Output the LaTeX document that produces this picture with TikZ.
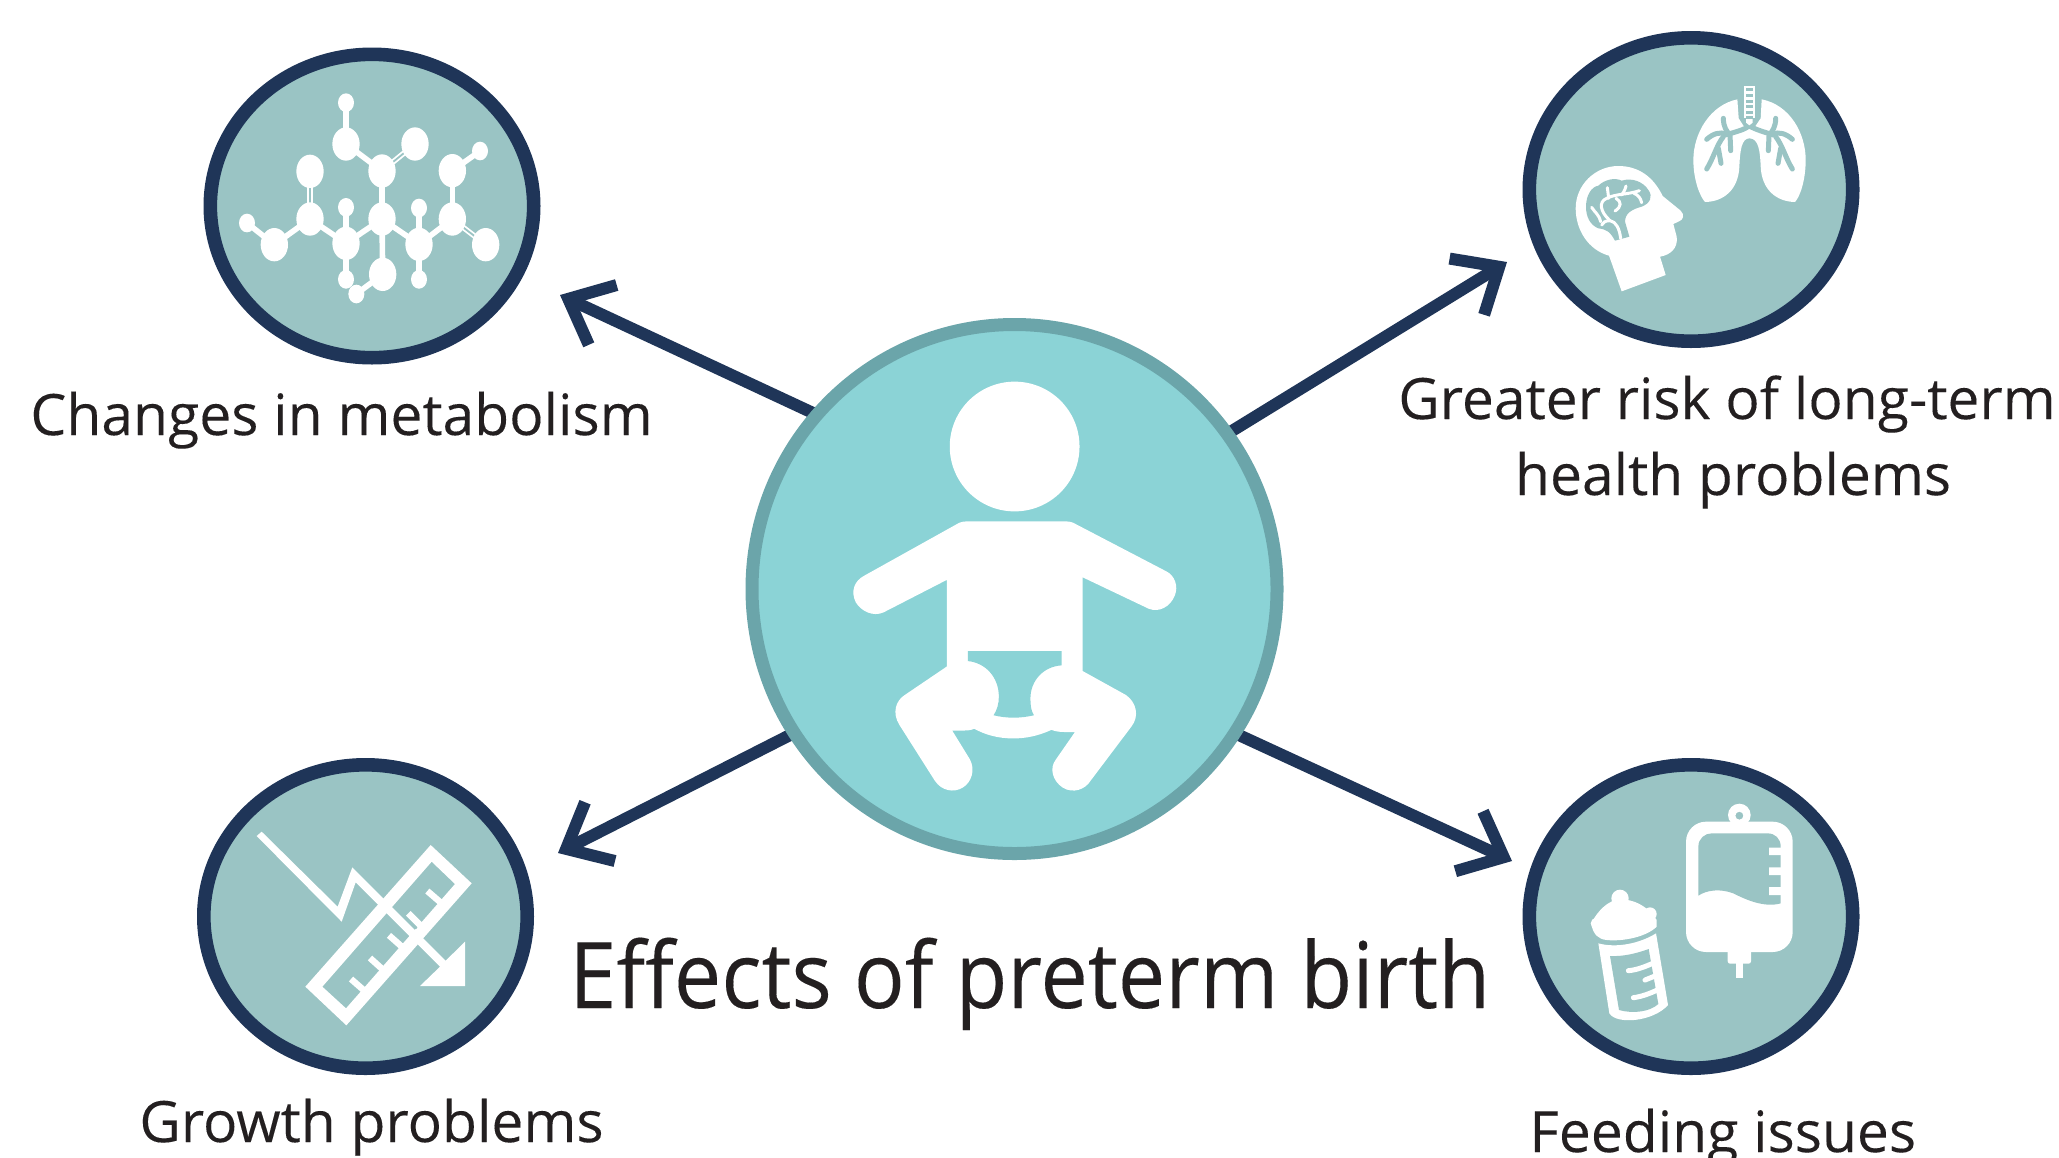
\documentclass[tikz,border=0pt]{standalone}
\usepackage{fontspec}
\setmainfont{Open Sans}[FakeBold=0.15]
\usetikzlibrary{arrows.meta,shapes.geometric,backgrounds}
\definecolor{navy}{HTML}{1F3558}
\definecolor{sea}{HTML}{9AC4C4}
\definecolor{aqua}{HTML}{8BD3D6}
\definecolor{ringc}{HTML}{6BA5AA}
\definecolor{ink}{HTML}{231F20}
\tikzset{
  effectcircle/.style={ellipse,draw=navy,fill=sea,line width=6.8pt,inner sep=0pt,minimum width=161.7pt,minimum height=151.7pt},
  maincircle/.style={ellipse,draw=ringc,fill=aqua,line width=6.5pt,inner sep=0pt,minimum width=262.5pt,minimum height=264.5pt},
  link/.style={draw=navy,line width=6pt,shorten <=-8pt,-{Straight Barb[length=19pt,width=33pt,line width=6pt,line join=miter,line cap=butt]}},
  lab/.style={font=\fontsize{28.5}{38}\selectfont,text=ink,inner sep=0pt},
  crop/.style 2 args={shift={(#1,#2)},x=.16667pt,y=-.16667pt},
  bigcrop/.style 2 args={shift={(#1,#2)},x=.17537pt,y=-.1782pt},
  bond/.style={draw=white,line width=2.8pt},
  dbond/.style={draw=white,line width=.9pt,double=sea,double distance=.9pt},
  vein/.style={draw=white,line width=1.5pt,line cap=round},
  bron/.style={draw=sea,line width=2.5pt,line cap=round},
}
\begin{document}
\begin{tikzpicture}[x=.5pt,y=-.5pt]
\useasboundingbox (0,0) rectangle (2059,1157);
% nodes
\node[maincircle] (center) at (1014.5,589) {};
\node[effectcircle] (metab) at (372,206) {};
\node[effectcircle] (risk) at (1691,189.5) {};
\node[effectcircle] (growth) at (365.5,916.5) {};
\node[effectcircle] (feed) at (1691,916.5) {};
% connectors
\coordinate (tipA) at (560,295);
\coordinate (tipB) at (1507,262);
\coordinate (tipC) at (558,853);
\coordinate (tipD) at (1512,861);
\begin{pgfonlayer}{background}
\draw[link] (center.139.3) -- (tipA);
\draw[link] (center.36.8) -- (tipB);
\draw[link] (center.213) -- (tipC);
\draw[link] (center.-33.8) -- (tipD);
\end{pgfonlayer}
% baby
\begin{scope}[bigcrop={740}{310}]
\fill[white] (783,383) ellipse [x radius=185,y radius=182];
\fill[white] (625,597) .. controls (632,594) and (640,593) .. (648,593) -- (930,593) .. controls (938,593) and (945,595) .. (950,597)
 -- (1215,733) .. controls (1240,745) and (1250,775) .. (1240,800) .. controls (1228,832) and (1195,850) .. (1165,838)
 -- (977,750) -- (977,1013) -- (1100,1080) .. controls (1130,1100) and (1140,1140) .. (1115,1170)
 -- (1000,1320) .. controls (985,1345) and (950,1358) .. (920,1340) .. controls (890,1320) and (882,1285) .. (900,1262)
 -- (955,1184) -- (925,1184) .. controls (910,1184) and (898,1182) .. (888,1178)
 .. controls (850,1195) and (815,1202) .. (780,1202) .. controls (735,1202) and (700,1192) .. (668,1175)
 .. controls (655,1180) and (645,1180) .. (635,1180) -- (605,1180) -- (655,1260)
 .. controls (672,1290) and (660,1325) .. (635,1340) .. controls (610,1355) and (575,1350) .. (555,1320)
 -- (455,1165) .. controls (432,1130) and (445,1095) .. (470,1080) -- (590,1000) -- (590,757)
 -- (410,848) .. controls (380,862) and (345,845) .. (330,820) .. controls (315,790) and (325,760) .. (355,745) -- cycle;
\fill[aqua] (650,957) -- (917,957) -- (917,997) .. controls (865,1000) and (828,1040) .. (828,1090)
 .. controls (828,1110) and (830,1125) .. (838,1137) .. controls (800,1146) and (760,1146) .. (723,1137)
 .. controls (733,1122) and (738,1105) .. (738,1085) .. controls (738,1030) and (700,990) .. (650,985) -- cycle;
\end{scope}
% molecule
\begin{scope}[crop={190}{40}]
\draw[bond] (468,188)--(468,312)--(576,393)--(576,537)--(578,703)--(499,762);
\draw[bond] (787,392)--(870,333);
\draw[bond] (787,392)--(787,537);
\draw[bond] (171,549)--(253,614)--(360,537)--(468,610)--(576,537)--(687,613)--(787,537);
\draw[bond] (468,502)--(468,718);
\draw[bond] (687,504)--(687,718);
\draw[dbond] (675,312)--(576,393);
\draw[dbond] (360,394)--(360,537);
\draw[dbond] (787,537)--(887,614);
\foreach \p in {(468,312),(675,312),(576,393),(360,394),(787,392),(360,537),(576,537),(787,537),(253,614),(468,610),(687,613),(887,614),(578,703)}
  \fill[white] \p ellipse [x radius=41,y radius=50];
\foreach \p in {(468,188),(870,333),(171,549),(468,502),(687,504),(468,718),(687,718),(499,762)}
  \fill[white] \p ellipse [x radius=24,y radius=28];
\end{scope}
% head and lungs
\begin{scope}[crop={1510}{20}]
\fill[white] (335,814) -- (297,707) .. controls (235,690) and (197,630) .. (197,565) .. controls (197,495) and (255,438) .. (325,438)
 .. controls (385,438) and (430,470) .. (458,528) -- (512,572) .. controls (525,585) and (520,600) .. (505,605) -- (490,612)
 -- (500,650) .. controls (505,685) and (480,705) .. (450,710) -- (467,765) -- cycle;
\fill[sea] (228,560) .. controls (228,525) and (245,500) .. (265,497) .. controls (285,478) and (315,472) .. (335,482)
 .. controls (365,472) and (400,485) .. (415,510) .. controls (430,530) and (420,550) .. (395,560)
 .. controls (365,568) and (345,580) .. (345,605) -- (358,650) -- (315,662) .. controls (300,635) and (290,628) .. (265,625)
 .. controls (240,615) and (228,590) .. cycle;
\draw[vein] (332,655) .. controls (328,625) and (318,605) .. (300,602) .. controls (285,602) and (278,608) .. (275,615);
\draw[vein] (245,562) .. controls (255,578) and (268,585) .. (272,605);
\draw[vein] (300,602) .. controls (270,575) and (265,545) .. (290,535) .. controls (320,520) and (350,525) .. (388,512);
\draw[vein] (292,503) -- (296,535);
\draw[vein] (348,498) .. controls (345,510) and (340,518) .. (335,525);
\draw[vein] (372,520) .. controls (385,525) and (392,535) .. (395,548);
\draw[vein] (318,535) .. controls (335,545) and (335,560) .. (315,573);
\fill[white] (682,238) .. controls (600,255) and (550,340) .. (550,420) .. controls (550,480) and (570,530) .. (585,546)
 .. controls (640,545) and (685,510) .. (688,440) .. controls (690,390) and (695,355) .. (718,355)
 .. controls (745,355) and (750,390) .. (752,440) .. controls (755,510) and (800,545) .. (855,546)
 .. controls (870,530) and (887,480) .. (887,420) .. controls (887,340) and (840,255) .. (755,238)
 -- (752,295) -- (735,320) -- (702,320) -- (686,295) -- cycle;
\draw[bron] (645,345) .. controls (680,335) and (700,330) .. (718,318) .. controls (740,330) and (760,335) .. (790,345);
\draw[bron] (640,295) .. controls (640,320) and (650,335) .. (660,345) -- (662,392);
\draw[bron] (797,295) .. controls (797,320) and (787,335) .. (777,345) -- (775,392);
\draw[bron] (590,358) .. controls (610,340) and (630,335) .. (650,342);
\draw[bron] (847,358) .. controls (827,340) and (807,335) .. (787,342);
\draw[bron] (640,350) .. controls (620,375) and (610,415) .. (590,447);
\draw[bron] (797,350) .. controls (817,375) and (827,415) .. (847,447);
\draw[bron] (625,385) -- (633,430);
\draw[bron] (812,385) -- (804,430);
\fill[white] (702,197) rectangle (735,295);
\fill[white] (708,295) -- (728,295) -- (728,308) -- (718,316) -- (708,308) -- cycle;
\foreach \y in {205,222,239,256,273,288} \fill[sea] (708,\y) rectangle (729,\y+9);
\end{scope}
% growth
\begin{scope}[crop={190}{750}]
\fill[white] (215,245) -- (443,470) -- (487,352) -- (767,632) -- (825,575) -- (825,708) -- (690,708) -- (750,650) -- (497,397) -- (455,515) -- (200,258) -- cycle;
\fill[white,even odd rule] (722,285) -- (845,400) -- (469,826) -- (346,710) -- cycle (725,335) -- (795,402) -- (468,775) -- (397,710) -- cycle;
\draw[white,line width=3.2pt] (483,687) -- (523,722) (540,624) -- (580,660) (597,556) -- (640,594) (712,423) -- (755,460);
\draw[sea,line width=1.1pt] (645,500) -- (680,535);
\draw[white,line width=3.2pt] (655,490) -- (690,525);
\end{scope}
% feeding
\begin{scope}[crop={1510}{750}]
\fill[white,even odd rule] (688,195) circle [x radius=34,y radius=34] (688,197) circle [x radius=12,y radius=12];
\fill[white,rounded corners=1.2pt] (653,590) rectangle (723,641);
\fill[white] (677,635) rectangle (700,684);
\fill[white,rounded corners=10pt] (528,215) rectangle (848,606);
\fill[sea] (565,437) -- (565,290) .. controls (565,265) and (585,250) .. (605,250) -- (772,250) .. controls (795,250) and (812,265) .. (812,290)
 -- (812,460) .. controls (760,475) and (700,445) .. (670,430) .. controls (630,415) and (590,420) .. cycle;
\fill[white] (777,293) rectangle (813,315) (777,352) rectangle (813,375) (777,411) rectangle (813,435);
% bottle
\fill[white] (330,445) circle [x radius=26,y radius=26];
\fill[white] (420,492) circle [x radius=20,y radius=20];
\fill[white] (258,520) circle [x radius=16,y radius=16];
\fill[white] (243,520) .. controls (265,480) and (295,450) .. (330,448) .. controls (370,448) and (410,465) .. (440,510)
 -- (440,530) .. controls (410,560) and (340,575) .. (290,570) .. controls (265,567) and (250,555) .. cycle;
\fill[white] (265,580) -- (298,790) .. controls (320,825) and (430,815) .. (474,765) -- (438,550) .. controls (390,580) and (320,595) .. cycle;
\fill[sea] (300,618) -- (327,780) .. controls (370,792) and (420,785) .. (445,762) -- (416,597) .. controls (380,610) and (340,620) .. cycle;
\draw[white,line width=2.5pt,line cap=round] (355,662) .. controls (380,660) and (405,650) .. (428,640);
\draw[white,line width=2.5pt,line cap=round] (405,690) -- (435,678);
\draw[white,line width=2.5pt,line cap=round] (370,743) .. controls (395,740) and (420,730) .. (442,720);
\end{scope}
% labels
\node[lab,anchor=base west] (lA) at (30,435) {Changes in metabolism};
\node[lab,anchor=base,align=center] (lB) at (1727,495) {Greater risk of long-term\\\hspace*{6pt}health problems};
\node[lab,anchor=base west] (lC) at (139,1142) {Growth problems};
\node[lab,anchor=base west] (lD) at (1529,1152) {Feeding issues};
\node[lab,anchor=base west,font=\fontsize{46}{50}\selectfont] (title) at (569,1008) {\scalebox{.92}[1]{Effects of preterm birth}};
\end{tikzpicture}
\end{document}
